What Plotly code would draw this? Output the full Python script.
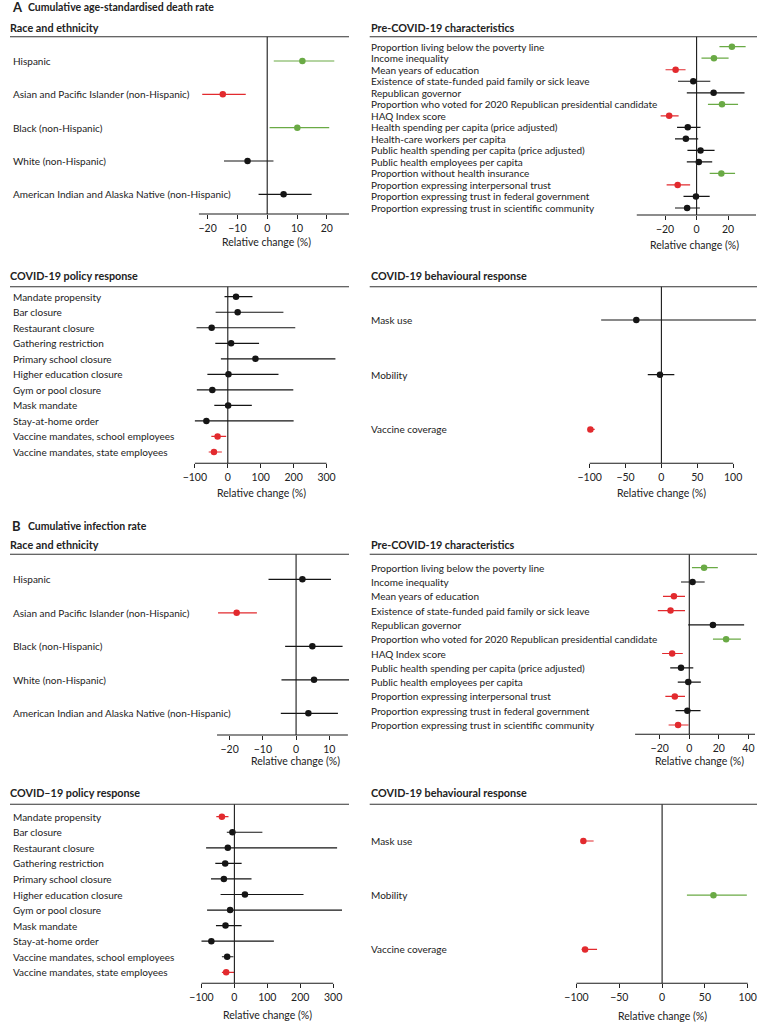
import plotly.graph_objects as go

W, H = 758, 1022
FONT = "Lato"
COL = {"g": "#6aaa45", "r": "#e22a2e", "k": "#151515"}
TXT = "#222222"

# ------------------------------------------------------------------ data
race_labels = [
    "Hispanic",
    "Asian and Pacific Islander (non-Hispanic)",
    "Black (non-Hispanic)",
    "White (non-Hispanic)",
    "American Indian and Alaska Native (non-Hispanic)",
]
a_race_est = [11.8, -14.9, 10.1, -6.6, 5.5]
a_race_lo = [2.2, -21.8, 0.8, -14.5, -2.9]
a_race_hi = [22.5, -7.2, 20.8, 2.1, 14.9]
a_race_sig = ["g", "r", "g", "k", "k"]

a_pre_labels = [
    "Proportion living below the poverty line",
    "Income inequality",
    "Mean years of education",
    "Existence of state-funded paid family or sick leave",
    "Republican governor",
    "Proportion who voted for 2020 Republican presidential candidate",
    "HAQ Index score",
    "Health spending per capita (price adjusted)",
    "Health-care workers per capita",
    "Public health spending per capita (price adjusted)",
    "Public health employees per capita",
    "Proportion without health insurance",
    "Proportion expressing interpersonal trust",
    "Proportion expressing trust in federal government",
    "Proportion expressing trust in scientific community",
]
a_pre_est = [22.4, 11.0, -13.3, -2.1, 10.8, 16.1, -17.4, -5.6, -6.8, 2.5, 1.4, 15.7, -12.0, -0.4, -6.0]
a_pre_lo = [14.5, 3.1, -19.7, -11.8, -6.2, 7.2, -22.8, -12.4, -13.7, -5.8, -6.2, 8.3, -19.0, -8.3, -13.7]
a_pre_hi = [31.1, 20.3, -7.0, 8.7, 30.4, 26.3, -11.4, 2.5, 1.0, 11.4, 9.9, 24.4, -4.1, 8.3, 2.1]
a_pre_sig = ["g", "g", "r", "k", "k", "g", "r", "k", "k", "k", "k", "g", "r", "k", "k"]

policy_labels = [
    "Mandate propensity",
    "Bar closure",
    "Restaurant closure",
    "Gathering restriction",
    "Primary school closure",
    "Higher education closure",
    "Gym or pool closure",
    "Mask mandate",
    "Stay-at-home order",
    "Vaccine mandates, school employees",
    "Vaccine mandates, state employees",
]
a_pol_est = [25, 30, -49, 10, 84, 2, -47, 1, -65, -31, -42]
a_pol_lo = [-10, -37, -95, -38, -21, -62, -94, -41, -100, -50, -58]
a_pol_hi = [75, 169, 205, 95, 327, 154, 199, 73, 200, -5, -18]
a_pol_sig = ["k", "k", "k", "k", "k", "k", "k", "k", "k", "r", "r"]

behav_labels = ["Mask use", "Mobility", "Vaccine coverage"]
a_beh_est = [-35, -2, -99]
a_beh_lo = [-84, -19, -100]
a_beh_hi = [150, 18, -93]
a_beh_sig = ["k", "k", "r"]

b_race_est = [1.9, -17.9, 4.9, 5.4, 3.7]
b_race_lo = [-8.3, -23.5, -3.3, -4.4, -4.6]
b_race_hi = [10.5, -11.8, 14.0, 16.2, 12.6]
b_race_sig = ["k", "r", "k", "k", "k"]

b_pre_labels = [
    "Proportion living below the poverty line",
    "Income inequality",
    "Mean years of education",
    "Existence of state-funded paid family or sick leave",
    "Republican governor",
    "Proportion who voted for 2020 Republican presidential candidate",
    "HAQ Index score",
    "Public health spending per capita (price adjusted)",
    "Public health employees per capita",
    "Proportion expressing interpersonal trust",
    "Proportion expressing trust in federal government",
    "Proportion expressing trust in scientific community",
]
b_pre_est = [10.0, 2.2, -10.4, -12.7, 16.0, 24.9, -11.6, -5.6, -0.7, -9.8, -1.3, -7.6]
b_pre_lo = [1.8, -5.6, -17.8, -21.3, -0.7, 16.0, -18.4, -12.9, -7.8, -16.2, -9.3, -14.0]
b_pre_hi = [19.3, 10.4, -2.9, -2.9, 37.1, 34.9, -4.4, 2.7, 7.8, -2.9, 7.6, -0.5]
b_pre_sig = ["g", "k", "r", "r", "k", "g", "r", "k", "k", "r", "k", "r"]

b_pol_est = [-38, -6, -20, -28, -32, 32, -13, -27, -70, -22, -25]
b_pol_lo = [-55, -23, -86, -58, -71, -42, -83, -56, -100, -38, -38]
b_pol_hi = [-18, 85, 312, 22, 52, 210, 327, 22, 120, -3, -1]
b_pol_sig = ["r", "k", "k", "k", "k", "k", "k", "k", "k", "k", "r"]

b_beh_est = [-92, 60, -90]
b_beh_lo = [-95, 29, -94]
b_beh_hi = [-80, 99, -76]
b_beh_sig = ["r", "g", "r"]

ticks_race_a = [-20, -10, 0, 10, 20]
ticks_pre_a = [-20, 0, 20]
ticks_pol = [-100, 0, 100, 200, 300]
ticks_beh = [-100, -50, 0, 50, 100]
ticks_race_b = [-20, -10, 0, 10]
ticks_pre_b = [-20, 0, 20, 40]

# ------------------------------------------------------------------ layout (pixels)
LEFT = dict(hx=0, lx=3, lineA=0, lineB=344)
RIGHT = dict(hx=366, lx=366, lineA=365, lineB=758)

panels = [
    dict(labels=race_labels, est=a_race_est, lo=a_race_lo, hi=a_race_hi, sig=a_race_sig,
         header="Race and ethnicity", side=LEFT, head_y=27, line_y=36.7, axis_y=214,
         row0=61, rowsp=33.33, x0=191.7, x1=344, zero=261, scale=3.025,
         ticks=ticks_race_a, axline=None, tx=260, ty=242),
    dict(labels=a_pre_labels, est=a_pre_est, lo=a_pre_lo, hi=a_pre_hi, sig=a_pre_sig,
         header="Pre-COVID-19 characteristics", side=RIGHT, head_y=27, line_y=36.7, axis_y=215,
         row0=46.7, rowsp=11.52, x0=636, x1=757, zero=696.7, scale=1.6,
         ticks=ticks_pre_a, axline=None, tx=695, ty=245),
    dict(labels=policy_labels, est=a_pol_est, lo=a_pol_lo, hi=a_pol_hi, sig=a_pol_sig,
         header="COVID-19 policy response", side=LEFT, head_y=275.7, line_y=286.7, axis_y=463.3,
         row0=296.7, rowsp=15.53, x0=185, x1=344, zero=221, scale=0.334,
         ticks=ticks_pol, axline=(-100, 300), tx=255, ty=493),
    dict(labels=behav_labels, est=a_beh_est, lo=a_beh_lo, hi=a_beh_hi, sig=a_beh_sig,
         header="COVID-19 behavioural response", side=RIGHT, head_y=275.7, line_y=286.7, axis_y=463.3,
         row0=320, rowsp=54.7, x0=575, x1=757, zero=661, scale=0.728,
         ticks=ticks_beh, axline=(-100, 100), tx=661, ty=493),
    dict(labels=race_labels, est=b_race_est, lo=b_race_lo, hi=b_race_hi, sig=b_race_sig,
         header="Race and ethnicity", side=LEFT, head_y=544.3, line_y=554.3, axis_y=735,
         row0=579.3, rowsp=33.5, x0=210, x1=344, zero=290.3, scale=3.37,
         ticks=ticks_race_b, axline=(-23.8, 15.6), tx=290, ty=761),
    dict(labels=b_pre_labels, est=b_pre_est, lo=b_pre_lo, hi=b_pre_hi, sig=b_pre_sig,
         header="Pre-COVID-19 characteristics", side=RIGHT, head_y=544.3, line_y=554.3, axis_y=734.3,
         row0=567.7, rowsp=14.3, x0=634.3, x1=756, zero=689.3, scale=1.5,
         ticks=ticks_pre_b, axline=None, tx=700, ty=761),
    dict(labels=policy_labels, est=b_pol_est, lo=b_pol_lo, hi=b_pol_hi, sig=b_pol_sig,
         header="COVID\u201319 policy response", side=LEFT, head_y=792.7, line_y=804.3, axis_y=983.3,
         row0=816.7, rowsp=15.56, x0=190, x1=344, zero=227.7, scale=0.334,
         ticks=ticks_pol, axline=(-100, 300), tx=261, ty=1015),
    dict(labels=behav_labels, est=b_beh_est, lo=b_beh_lo, hi=b_beh_hi, sig=b_beh_sig,
         header="COVID-19 behavioural response", side=RIGHT, head_y=792.7, line_y=804.3, axis_y=983.3,
         row0=841, rowsp=54.2, x0=565, x1=757, zero=661.7, scale=0.8685,
         ticks=ticks_beh, axline=(-100, 100), tx=662, ty=1016),
]


def P(px):
    return px / W


def Q(py):
    return 1 - py / H


def note(**kw):
    base = dict(showarrow=False, borderpad=0, borderwidth=0)
    base.update(kw)
    return base


fig = go.Figure()
shapes = []
annotations = []

for k, p in enumerate(panels, start=1):
    xa = "x" if k == 1 else f"x{k}"
    ya = "y" if k == 1 else f"y{k}"
    n = len(p["labels"])
    for s in ["k", "g", "r"]:
        sel = [i for i in range(n) if p["sig"][i] == s]
        if not sel:
            continue
        fig.add_trace(go.Scatter(
            x=[p["est"][i] for i in sel], y=sel, mode="markers",
            marker=dict(color=COL[s], size=6.5, line=dict(width=0)),
            error_x=dict(type="data", symmetric=False,
                         array=[p["hi"][i] - p["est"][i] for i in sel],
                         arrayminus=[p["est"][i] - p["lo"][i] for i in sel],
                         color=COL[s], thickness=1.2, width=0),
            xaxis=xa, yaxis=ya, showlegend=False, hoverinfo="skip"))

    x0, x1, z, sc = p["x0"], p["x1"], p["zero"], p["scale"]
    fig.layout["xaxis" + ("" if k == 1 else str(k))] = dict(
        domain=[P(x0), P(x1)], range=[(x0 - z) / sc, (x1 - z) / sc], anchor=ya,
        tickmode="array", tickvals=p["ticks"], ticks="outside", ticklen=4, tickwidth=1,
        tickcolor="#222", showline=False, showgrid=False, zeroline=False,
        tickfont=dict(size=10.5, color=TXT, family=FONT), fixedrange=True)
    fig.layout["yaxis" + ("" if k == 1 else str(k))] = dict(
        domain=[Q(p["axis_y"]), Q(p["line_y"])],
        range=[(p["axis_y"] - p["row0"]) / p["rowsp"], (p["line_y"] - p["row0"]) / p["rowsp"]],
        anchor=xa, visible=False, fixedrange=True)

    # zero line
    shapes.append(dict(type="line", xref=xa, yref=ya + " domain", x0=0, x1=0, y0=0, y1=1,
                       line=dict(color="#1a1a1a", width=1.1)))
    # axis line
    if p["axline"] is None:
        shapes.append(dict(type="line", xref=xa + " domain", yref=ya + " domain", x0=0, x1=1, y0=0, y1=0,
                           line=dict(color="#1a1a1a", width=1.1)))
    else:
        shapes.append(dict(type="line", xref=xa, yref=ya + " domain", x0=p["axline"][0], x1=p["axline"][1],
                           y0=0, y1=0, line=dict(color="#1a1a1a", width=1.1)))
    # header line
    side = p["side"]
    shapes.append(dict(type="line", xref="paper", yref="paper", x0=P(side["lineA"]), x1=P(side["lineB"]),
                       y0=Q(p["line_y"]), y1=Q(p["line_y"]), line=dict(color="#333333", width=1.1)))
    # header text
    annotations.append(note(xref="paper", yref="paper", x=P(side["hx"]), y=Q(p["head_y"]),
                            xanchor="left", yanchor="middle", text="<b>" + p["header"] + "</b>",
                            font=dict(size=10.8, color=TXT, family=FONT)))
    # row labels
    for i, lab in enumerate(p["labels"]):
        annotations.append(note(xref="paper", yref=ya, x=P(side["lx"]), y=i, xanchor="left", yanchor="middle",
                                text=lab, font=dict(size=10, color=TXT, family=FONT)))
    # axis title
    annotations.append(note(xref="paper", yref="paper", x=P(p["tx"]), y=Q(p["ty"]), xanchor="center",
                            yanchor="middle", text="Relative change (%)",
                            font=dict(size=10.5, color=TXT, family=FONT)))

# section titles
for letter, title, y in [("A", "Cumulative age-standardised death rate", 6.5),
                         ("B", "Cumulative infection rate", 526)]:
    annotations.append(note(xref="paper", yref="paper", x=P(2), y=Q(y), xanchor="left", yanchor="middle",
                            text="<b>" + letter + "</b>", font=dict(size=13, color=TXT, family=FONT)))
    annotations.append(note(xref="paper", yref="paper", x=P(18), y=Q(y), xanchor="left", yanchor="middle",
                            text="<b>" + title + "</b>", font=dict(size=10.5, color=TXT, family=FONT)))

fig.update_layout(width=W, height=H, margin=dict(l=0, r=0, t=0, b=0, pad=0),
                  paper_bgcolor="white", plot_bgcolor="rgba(0,0,0,0)",
                  shapes=shapes, annotations=annotations, showlegend=False,
                  font=dict(family=FONT, color=TXT))

fig.write_html("out.html", config={"displayModeBar": False},
               post_script="document.documentElement.style.margin='0';"
                           "document.documentElement.style.overflow='hidden';"
                           "document.body.style.margin='0';document.body.style.padding='0';"
                           "document.body.style.overflow='hidden';")
